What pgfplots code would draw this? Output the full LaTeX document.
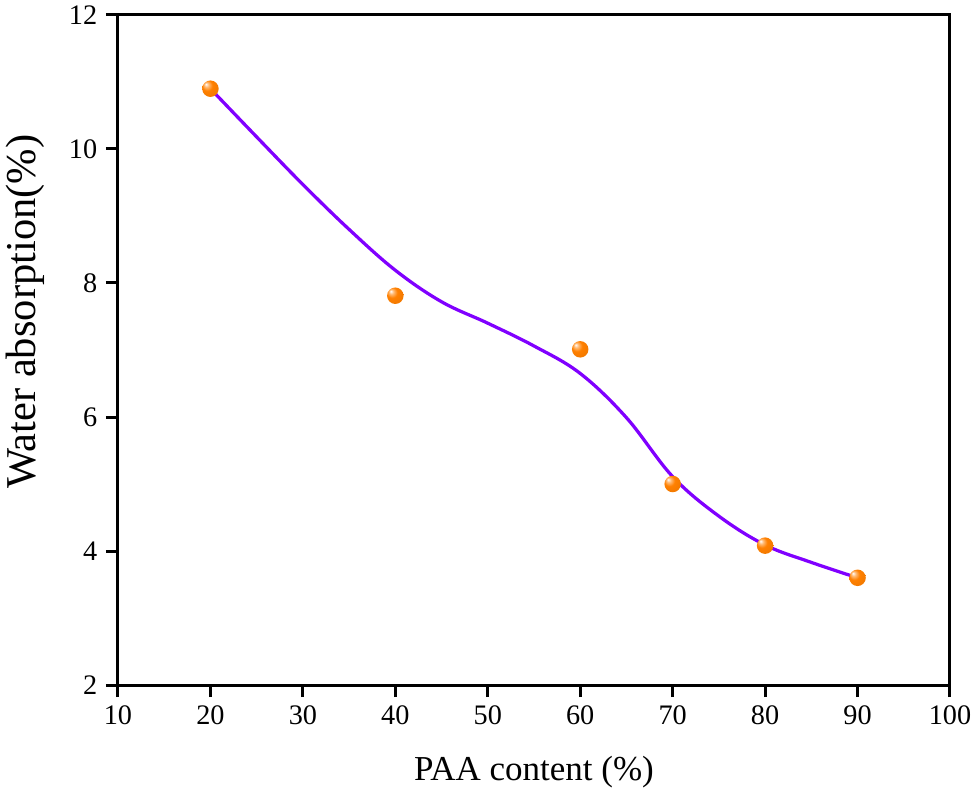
\documentclass[border=0pt]{standalone}
\usepackage{pgfplots}
\pgfplotsset{compat=1.18}
\usepackage{fontspec}
\setmainfont{Liberation Serif}
\definecolor{curvepurple}{RGB}{128,0,255}
\definecolor{ballorange}{RGB}{255,128,0}
\pgfdeclareradialshading{orangeball}{\pgfpoint{-14bp}{14bp}}{%
  color(0bp)=(white);
  color(7bp)=(white!45!ballorange);
  color(16bp)=(ballorange);
  color(40bp)=(ballorange!92!black);
  color(50bp)=(ballorange!80!black)}
\pgfdeclareplotmark{oball}{%
  \pgfpathcircle{\pgfpointorigin}{\pgfplotmarksize}%
  \pgfshadepath{orangeball}{0}%
  \pgfusepath{}}
\begin{document}
\begin{tikzpicture}
\useasboundingbox (-47.2pt,-44.4pt) rectangle (342.8pt,274pt);
\begin{axis}[
  at={(0,0)}, anchor=south west,
  scale only axis, width=332.8pt, height=268pt,
  xmin=10, xmax=100, ymin=2, ymax=12,
  xtick={10,20,...,100}, ytick={2,4,...,12},
  tick align=outside, tick pos=left,
  major tick length=4.8pt,
  axis line style={line width=1.2pt},
  every tick/.style={black, line width=1.2pt},
  /pgf/number format/assume math mode=true,
  tick label style={font=\fontsize{11.3}{13}\selectfont},
  xlabel={PAA content (\%)},
  ylabel={Water absorption(\%)},
  xlabel style={font=\fontsize{14}{16}\selectfont, at={(axis description cs:0.5,-0.13)}, anchor=center},
  ylabel style={font=\fontsize{17}{19}\selectfont, at={(axis description cs:-0.112,0.557)}, anchor=center},
  clip=false,
]
\addplot[curvepurple, line width=1.3pt, smooth, tension=0.6] coordinates {
(20,10.9) (25,10.18) (30,9.47) (35,8.8) (40,8.19) (45,7.72) (50,7.40)
(55,7.06) (60,6.65) (65,5.99) (70,5.11) (75,4.52) (80,4.09) (85,3.83) (90,3.6)
};
\addplot[only marks, mark=oball, mark size=3.3pt] coordinates {
(20,10.9) (40,7.81) (60,7.01) (70,5.0) (80,4.08) (90,3.6)
};
\end{axis}
\end{tikzpicture}
\end{document}
